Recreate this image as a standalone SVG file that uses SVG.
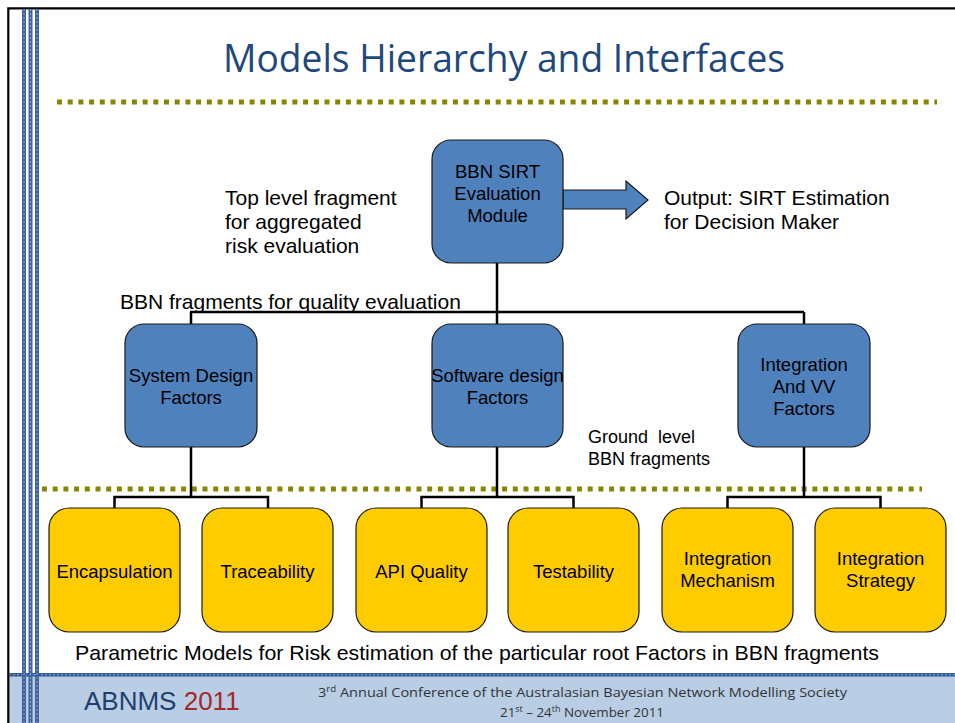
<svg xmlns="http://www.w3.org/2000/svg" width="955" height="723" viewBox="0 0 955 723">
<style>
.t{font-family:"Liberation Sans",Arial,sans-serif;fill:#000}
.b{font-size:18.5px;text-anchor:middle}
.l{font-size:21px}
.blue{fill:#4f81bd;stroke:#1a1a1a;stroke-width:1.2}
.yel{fill:#ffcc00;stroke:#1a1a1a;stroke-width:1.2}
.c{fill:none;stroke:#000;stroke-width:2.5}
.dot{fill:none;stroke:#868600;stroke-width:5;stroke-dasharray:5 5.7}
.stripe{fill:#3f639c}
.sl{stroke:#8fa9d2;stroke-width:1;stroke-dasharray:2 2}
</style>
<rect width="955" height="723" fill="#fff"/>
<!-- footer band -->
<rect x="9" y="673" width="946" height="50" fill="#b9cde5"/>
<rect x="9" y="673" width="946" height="3.5" fill="#2f5a95"/>
<line x1="9" y1="674.7" x2="955" y2="674.7" class="sl"/>
<!-- frame -->
<path d="M8.3 723 V8.3 H955" fill="none" stroke="#000" stroke-width="2.2"/>
<!-- stripes -->
<rect class="stripe" x="22" y="9" width="4" height="714"/>
<rect class="stripe" x="28.5" y="9" width="4" height="714"/>
<rect class="stripe" x="35" y="9" width="4" height="714"/>
<line class="sl" x1="24" y1="9" x2="24" y2="723"/>
<line class="sl" x1="30.5" y1="9" x2="30.5" y2="723"/>
<line class="sl" x1="37" y1="9" x2="37" y2="723"/>
<!-- title -->
<text x="504" y="72" font-family="'Open Sans','Liberation Sans',sans-serif" font-size="38" fill="#1f497d" text-anchor="middle" textLength="562" lengthAdjust="spacingAndGlyphs">Models Hierarchy and Interfaces</text>
<!-- dotted lines -->
<line class="dot" x1="57" y1="102" x2="937" y2="102"/>
<line class="dot" x1="42" y1="489" x2="922" y2="489"/>
<!-- connectors -->
<g id="connectors">
<path class="c" d="M497 263 V312 M190 312 H804 M191 312 V324 M497 312 V324 M804 312 V324"/>
<path class="c" d="M191 447 V497 M114.5 508 V497 H268 V508"/>
<path class="c" d="M497 447 V497 M421.5 508 V497 H573.5 V508"/>
<path class="c" d="M804 447 V497 M727.5 508 V497 H880.5 V508"/>
<polygon points="563,190 626,190 626,181 648,200 626,219 626,209 563,209" fill="#4f81bd" stroke="#1a1a1a" stroke-width="1.2"/>
</g>
<!-- nodes -->
<g id="sirt">
<rect class="blue" x="432" y="140" width="131" height="123" rx="19"/>
<text class="t b" x="497.5" y="178">BBN SIRT</text>
<text class="t b" x="497.5" y="200">Evaluation</text>
<text class="t b" x="497.5" y="222">Module</text>
</g>
<g id="system">
<rect class="blue" x="125" y="324" width="132" height="123" rx="19"/>
<text class="t b" x="191" y="382">System Design</text>
<text class="t b" x="191" y="404">Factors</text>
</g>
<g id="software">
<rect class="blue" x="432" y="324" width="131" height="123" rx="19"/>
<text class="t b" x="497.5" y="382">Software design</text>
<text class="t b" x="497.5" y="404">Factors</text>
</g>
<g id="integration">
<rect class="blue" x="738" y="324" width="132" height="123" rx="19"/>
<text class="t b" x="804" y="371">Integration</text>
<text class="t b" x="804" y="393">And VV</text>
<text class="t b" x="804" y="415">Factors</text>
</g>
<g id="encapsulation">
<rect class="yel" x="49" y="508" width="131" height="124" rx="20"/>
<text class="t b" x="114.5" y="578">Encapsulation</text>
</g>
<g id="traceability">
<rect class="yel" x="202" y="508" width="131" height="124" rx="20"/>
<text class="t b" x="267.5" y="578">Traceability</text>
</g>
<g id="api">
<rect class="yel" x="356" y="508" width="131" height="124" rx="20"/>
<text class="t b" x="421.5" y="578">API Quality</text>
</g>
<g id="testability">
<rect class="yel" x="508" y="508" width="131" height="124" rx="20"/>
<text class="t b" x="573.5" y="578">Testability</text>
</g>
<g id="mechanism">
<rect class="yel" x="662" y="508" width="131" height="124" rx="20"/>
<text class="t b" x="727.5" y="565">Integration</text>
<text class="t b" x="727.5" y="587">Mechanism</text>
</g>
<g id="strategy">
<rect class="yel" x="815" y="508" width="131" height="124" rx="20"/>
<text class="t b" x="880.5" y="565">Integration</text>
<text class="t b" x="880.5" y="587">Strategy</text>
</g>
<!-- labels -->
<text class="t l" x="225" y="205">Top level fragment</text>
<text class="t l" x="225" y="229">for aggregated</text>
<text class="t l" x="225" y="253">risk evaluation</text>
<text class="t l" x="664" y="205">Output: SIRT Estimation</text>
<text class="t l" x="664" y="229">for Decision Maker</text>
<text class="t l" x="120" y="309">BBN fragments for quality evaluation</text>
<text class="t" x="588" y="443" font-size="18" xml:space="preserve">Ground  level</text>
<text class="t" x="588" y="465" font-size="18">BBN fragments</text>
<text class="t" x="75" y="660" font-size="21" textLength="804" lengthAdjust="spacingAndGlyphs">Parametric Models for Risk estimation of the particular root Factors in BBN fragments</text>
<!-- footer -->
<text x="84" y="710" font-family="'Liberation Sans',Arial,sans-serif" font-size="26" fill="#1f3f6f">ABNMS <tspan fill="#a5282b">2011</tspan></text>
<text x="318" y="697" font-family="'Open Sans','Liberation Sans',sans-serif" font-size="13.5" fill="#333" textLength="529" lengthAdjust="spacingAndGlyphs">3<tspan font-size="9" dy="-5">rd</tspan><tspan dy="5"> Annual Conference of the Australasian Bayesian Network Modelling Society</tspan></text>
<text x="500" y="717" font-family="'Open Sans','Liberation Sans',sans-serif" font-size="13.5" fill="#333" textLength="164" lengthAdjust="spacingAndGlyphs">21<tspan font-size="9" dy="-5">st</tspan><tspan dy="5"> – 24</tspan><tspan font-size="9" dy="-5">th</tspan><tspan dy="5"> November 2011</tspan></text>
</svg>
